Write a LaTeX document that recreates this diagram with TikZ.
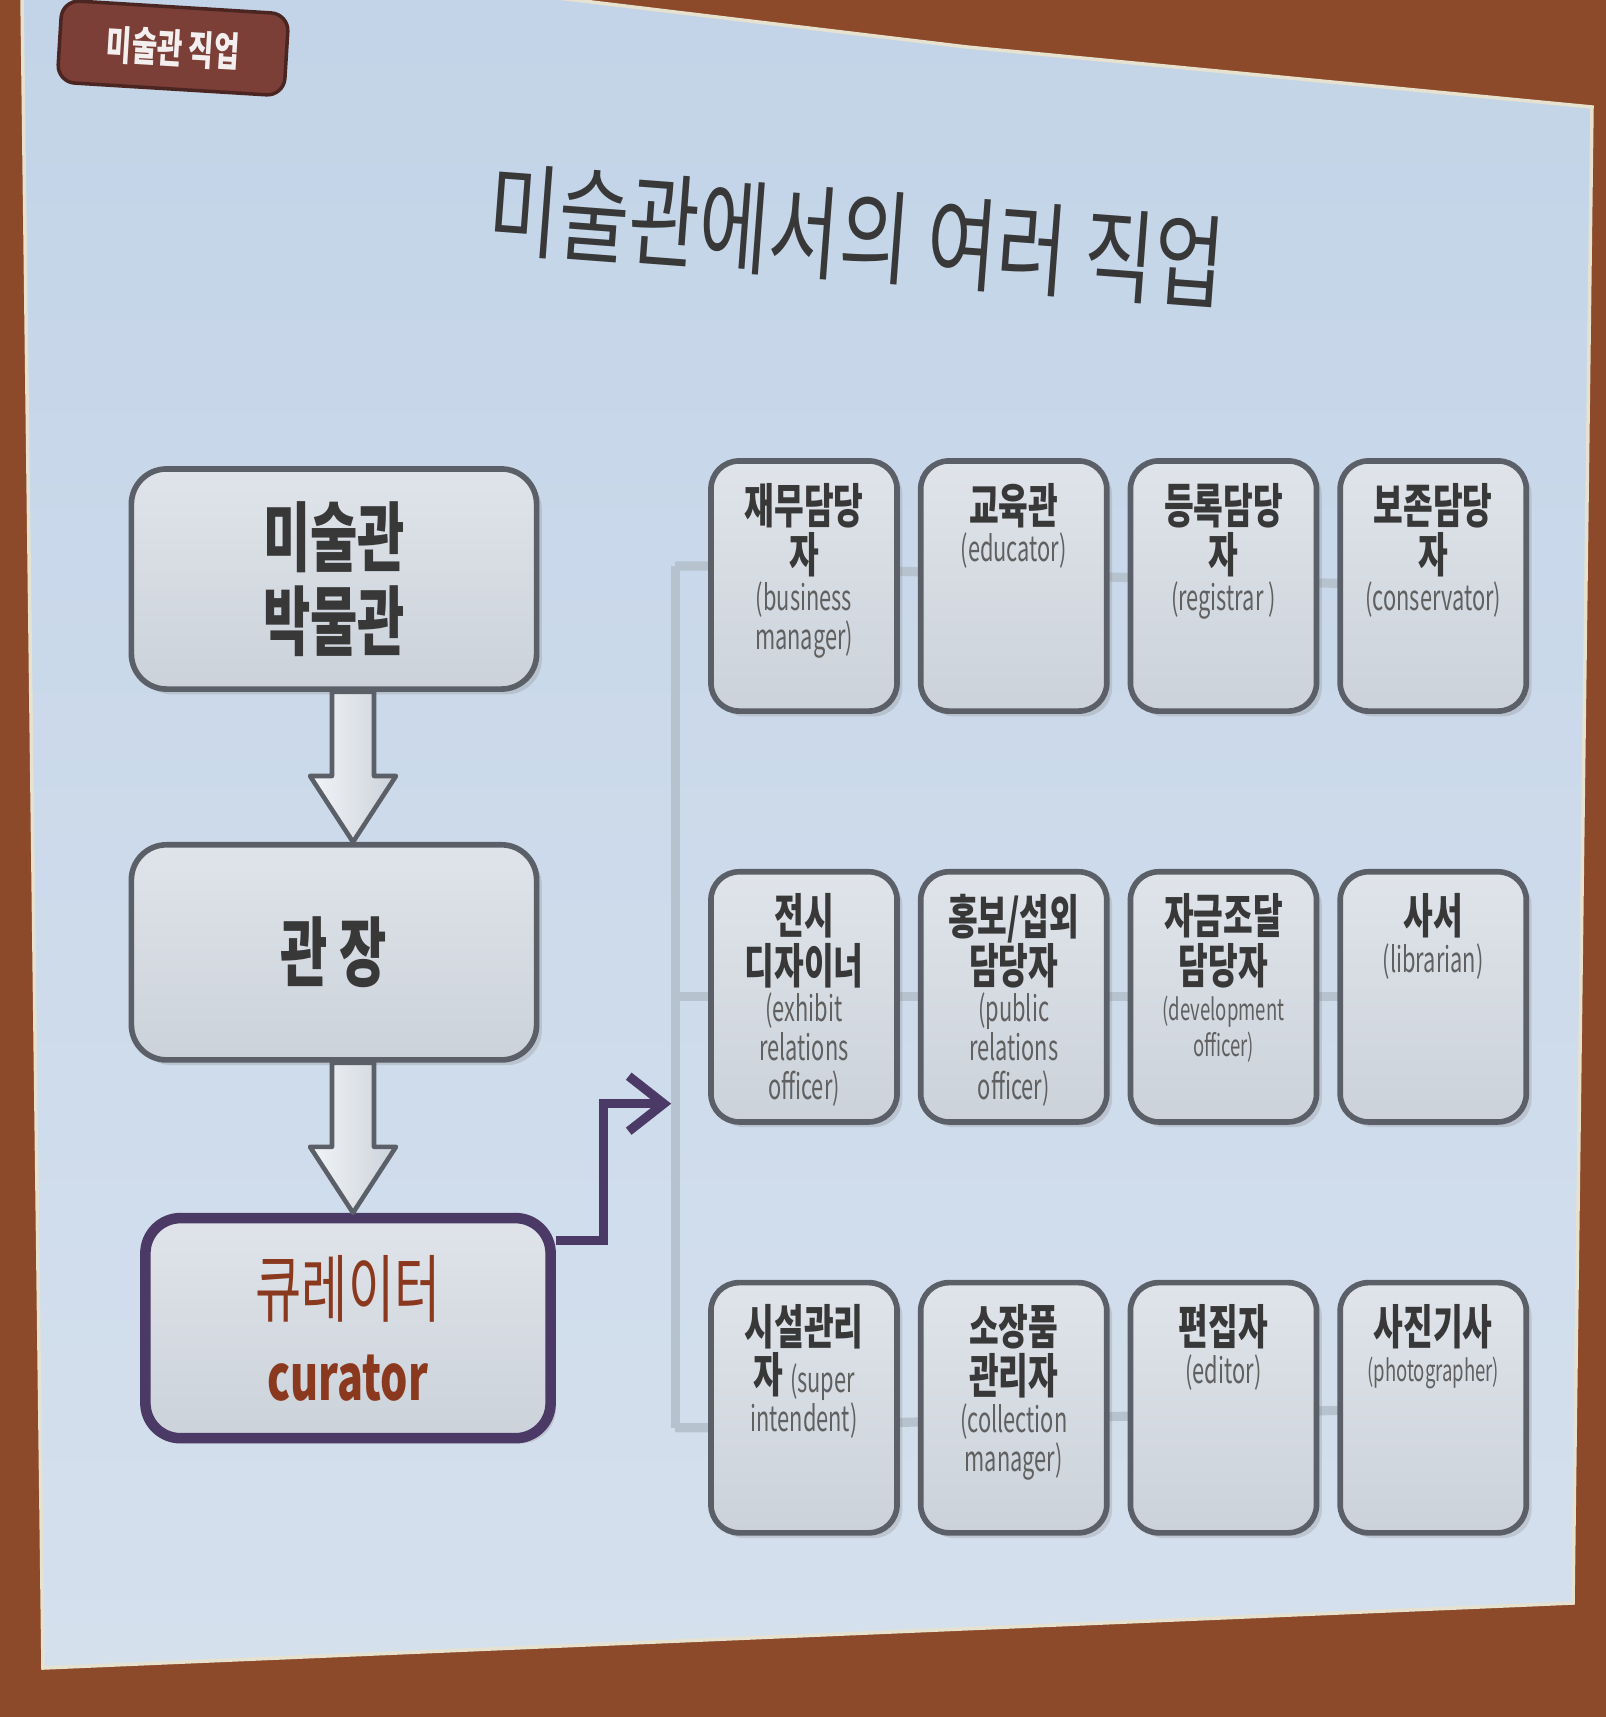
\documentclass[tikz,border=0pt]{standalone}
\usepackage{fontspec}
\usepackage{xcolor}
\usepackage{tikz}
\usetikzlibrary{arrows.meta, positioning, calc, shadows}
\setmainfont{Noto Sans CJK KR}[FakeStretch=0.68]
\newfontfamily\narrowfont{Noto Sans CJK KR}[FakeStretch=0.62]
\newfontfamily\titlefont{Noto Sans CJK KR}[FakeStretch=0.75]
\definecolor{framebrown}{HTML}{8C4A2B}
\definecolor{slidetop}{HTML}{C3D4E8}
\definecolor{slidebot}{HTML}{D5E0ED}
\definecolor{slideedge}{HTML}{E6E2CF}
\definecolor{tagfill}{HTML}{7B3F37}
\definecolor{tagline}{HTML}{4B2521}
\definecolor{tagtext}{HTML}{F3EFEF}
\definecolor{boxtop}{HTML}{E0E4EA}
\definecolor{boxbot}{HTML}{CBD2DA}
\definecolor{boxline}{HTML}{5B5F68}
\definecolor{wiregray}{HTML}{B6C2CE}
\definecolor{curpurple}{HTML}{4B3A66}
\definecolor{curred}{HTML}{8A391E}
\definecolor{inkdark}{HTML}{383838}
\definecolor{inkgray}{HTML}{606060}
\pgfdeclarelayer{slide}
\pgfdeclarelayer{wires}
\pgfsetlayers{slide,wires,main}
\newcommand{\jobhd}{\fontsize{13.5}{14}\selectfont\bfseries\color{inkdark}}
\newcommand{\joben}{\narrowfont\fontsize{10}{11}\selectfont\mdseries\color{inkgray}}
\newcommand{\jobsm}{\narrowfont\fontsize{8.5}{10.5}\selectfont\mdseries\color{inkgray}}
\newcommand{\jobtext}[1]{\parbox[c][2.06cm][t]{1.8cm}{\centering #1}}

\begin{document}
\begin{tikzpicture}[x=0.01cm, y=-0.01cm,
  stage/.style={rectangle, rounded corners=10pt, draw=boxline, line width=1.6pt,
                top color=boxtop, bottom color=boxbot, minimum width=4.05cm,
                minimum height=2.2cm, align=center, text=inkdark,
                font=\fontsize{21.5}{24}\selectfont\bfseries,
                drop shadow={shadow xshift=1.5pt, shadow yshift=-1.5pt, opacity=0.25}},
  curatorbox/.style={draw=curpurple, line width=3pt, text=curred, minimum height=2.2cm,
                     font=\fontsize{21}{24}\selectfont},
  job/.style={stage, rounded corners=8pt, minimum width=1.86cm, minimum height=2.5cm, inner sep=0pt},
  tag/.style={rectangle, rounded corners=5pt, fill=tagfill, draw=tagline, line width=1pt,
              minimum width=2.27cm, minimum height=0.82cm, text=tagtext,
              font=\fontsize{11.5}{12}\selectfont\bfseries},
  bigarrow/.style={draw=boxline, line width=1.3pt, line join=round,
                   left color=boxtop!40!white, right color=boxbot},
  wire/.style={draw=wiregray, line width=2.6pt},
  curlink/.style={draw=curpurple, line width=2.6pt, -{Straight Barb[length=3.5mm, width=5.5mm]}}]
  \useasboundingbox (0,0) rectangle (1606,1717);
  \begin{pgfonlayer}{slide}
    \fill[framebrown] (0,0) rectangle (1606,1717);
    \draw[draw=slideedge, line width=1pt, top color=slidetop, bottom color=slidebot]
      (22,-5) -- (533,-5) -- (967,47) -- (1592,107) -- (1573,1603) -- (43,1668) -- cycle;
  \end{pgfonlayer}

  \node[tag, rotate=-3.5] (tag) at (173,48) {미술관 직업};
  \node[text=inkdark, font=\titlefont\fontsize{29}{29}\selectfont, rotate=-4.3] (title) at (857,236) {미술관에서의 여러 직업};

  \node[stage] (museum) at (334,579) {미술관\\박물관};
  \node[stage, below=1.5cm of museum, minimum height=2.15cm] (director) {관 장};
  \node[stage, curatorbox, below=1.5cm of director, xshift=0.14cm] (curator)
    {큐레이터\\{\fontsize{18}{24}\selectfont\bfseries curator}};

  \node[job] (fin) at (804,586) {\jobtext{\jobhd 재무담당\\자\par\joben (business\\manager)}};
  \node[job, right=0.18cm of fin] (edu) {\jobtext{\jobhd 교육관\par\joben (educator)}};
  \node[job, right=0.18cm of edu] (reg) {\jobtext{\jobhd 등록담당\\자\par\joben (registrar )}};
  \node[job, right=0.18cm of reg] (cons) {\jobtext{\jobhd 보존담당\\자\par\joben (conservator)}};
  \node[job, below=1.55cm of fin] (exh) {\jobtext{\jobhd 전시\\디자이너\par\joben (exhibit\\relations\\officer)}};
  \node[job, right=0.18cm of exh] (pr) {\jobtext{\jobhd 홍보/섭외\\담당자\par\joben (public\\relations\\officer)}};
  \node[job, right=0.18cm of pr] (fund) {\jobtext{\jobhd 자금조달\\담당자\par\jobsm (development\\officer)}};
  \node[job, right=0.18cm of fund] (lib) {\jobtext{\jobhd 사서\par\joben (librarian)}};
  \node[job, below=1.55cm of exh] (fac) {\jobtext{\jobhd 시설관리\\자 \joben(super\\intendent)}};
  \node[job, right=0.18cm of fac] (coll) {\jobtext{\jobhd 소장품\\관리자\par\joben (collection\\manager)}};
  \node[job, right=0.18cm of coll] (edit) {\jobtext{\jobhd 편집자\par\joben (editor)}};
  \node[job, right=0.18cm of edit] (photo) {\jobtext{\jobhd 사진기사\par\jobsm (photographer)}};

  \begin{pgfonlayer}{wires}
    \draw[wire] ($(fin.west)+(-33,-20)$) -- ($(fac.west)+(-33,20)$);
    \foreach \r/\e/\d in {fin/cons/-20, exh/lib/0, fac/photo/20}
      \draw[wire] ($(\r.west)+(-33,\d)$) -- ($(\r.west)+(0,\d)$) -- (\e.center);
  \end{pgfonlayer}

  \foreach \a/\b in {museum/director, director/curator}{
    \coordinate (s) at ($(\a.south)+(19,0)$);
    \coordinate (t) at (s |- \b.north);
    \draw[bigarrow] ($(s)+(-21,0)$) -- ($(t)+(-21,-66)$) -- ($(t)+(-43,-66)$) -- (t)
      -- ($(t)+(43,-66)$) -- ($(t)+(21,-66)$) -- ($(s)+(21,0)$) -- cycle;
  }

  \coordinate (hub) at ($(exh.west)!0.26!(fac.west)+(-37,0)$);
  \draw[curlink] ($(curator.north east)+(0,28)$) -| ($(hub)+(-68,0)$) -- (hub);
\end{tikzpicture}
\end{document}
